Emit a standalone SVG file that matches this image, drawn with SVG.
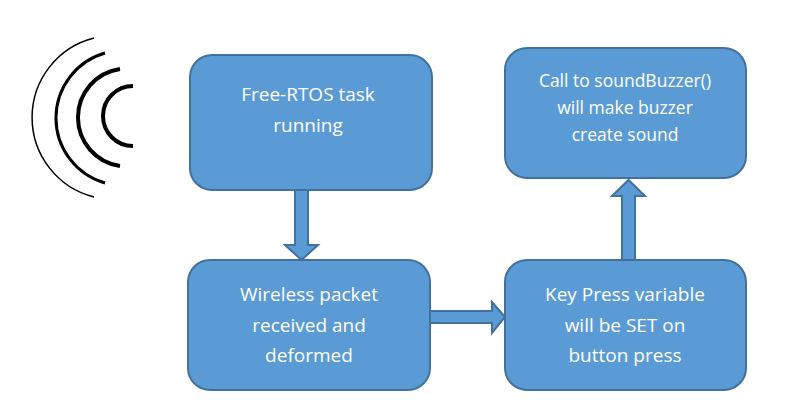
<svg xmlns="http://www.w3.org/2000/svg" width="800" height="401" viewBox="0 0 800 401">
<style>
.box{fill:#5b9bd5;stroke:#41719c;stroke-width:2}
.arr{fill:#5b9bd5;stroke:#41719c;stroke-width:2;stroke-linejoin:miter}
text{font-family:"Open Sans","Liberation Sans",sans-serif;fill:#fff;text-anchor:middle}
.arc{fill:none;stroke:#000}
</style>
<rect width="800" height="401" fill="#fff"/>
<g id="waves">
<path class="arc" stroke-width="1.5" d="M94,38 A82,82 0 0 0 94,197"/>
<path class="arc" stroke-width="3" d="M105,53 A67.6,67.6 0 0 0 105,183"/>
<path class="arc" stroke-width="4" d="M120,69 A49,49 0 0 0 120,166"/>
<path class="arc" stroke-width="4" d="M133,86 A30,30 0 0 0 133,146"/>
</g>
<g id="connectors">
<path class="arr" d="M295,190 H308 V245 H318 L301.5,260 L285,245 H295 Z"/>
<path class="arr" d="M430,311 H492 V302 L505,317 L492,333 V323 H430 Z"/>
<path class="arr" d="M622,260 V196 H612 L628.5,180 L645,196 H635 V260 Z"/>
</g>
<g id="n1"><rect class="box" x="190" y="55" width="242" height="135" rx="22"/>
<text font-size="19"><tspan x="308" y="101">Free-RTOS task</tspan><tspan x="308" y="132">running</tspan></text></g>
<g id="n2"><rect class="box" x="188" y="260" width="242" height="130" rx="22"/>
<text font-size="19"><tspan x="309" y="301">Wireless packet</tspan><tspan x="309" y="332">received and</tspan><tspan x="309" y="362">deformed</tspan></text></g>
<g id="n3"><rect class="box" x="505" y="260" width="241" height="130" rx="22"/>
<text font-size="19"><tspan x="625" y="301">Key Press variable</tspan><tspan x="625" y="332">will be SET on</tspan><tspan x="625" y="362">button press</tspan></text></g>
<g id="n4"><rect class="box" x="505" y="48" width="241" height="130" rx="22"/>
<text font-size="17.5"><tspan x="625" y="87">Call to soundBuzzer()</tspan><tspan x="625" y="114">will make buzzer</tspan><tspan x="625" y="141">create sound</tspan></text></g>
</svg>
